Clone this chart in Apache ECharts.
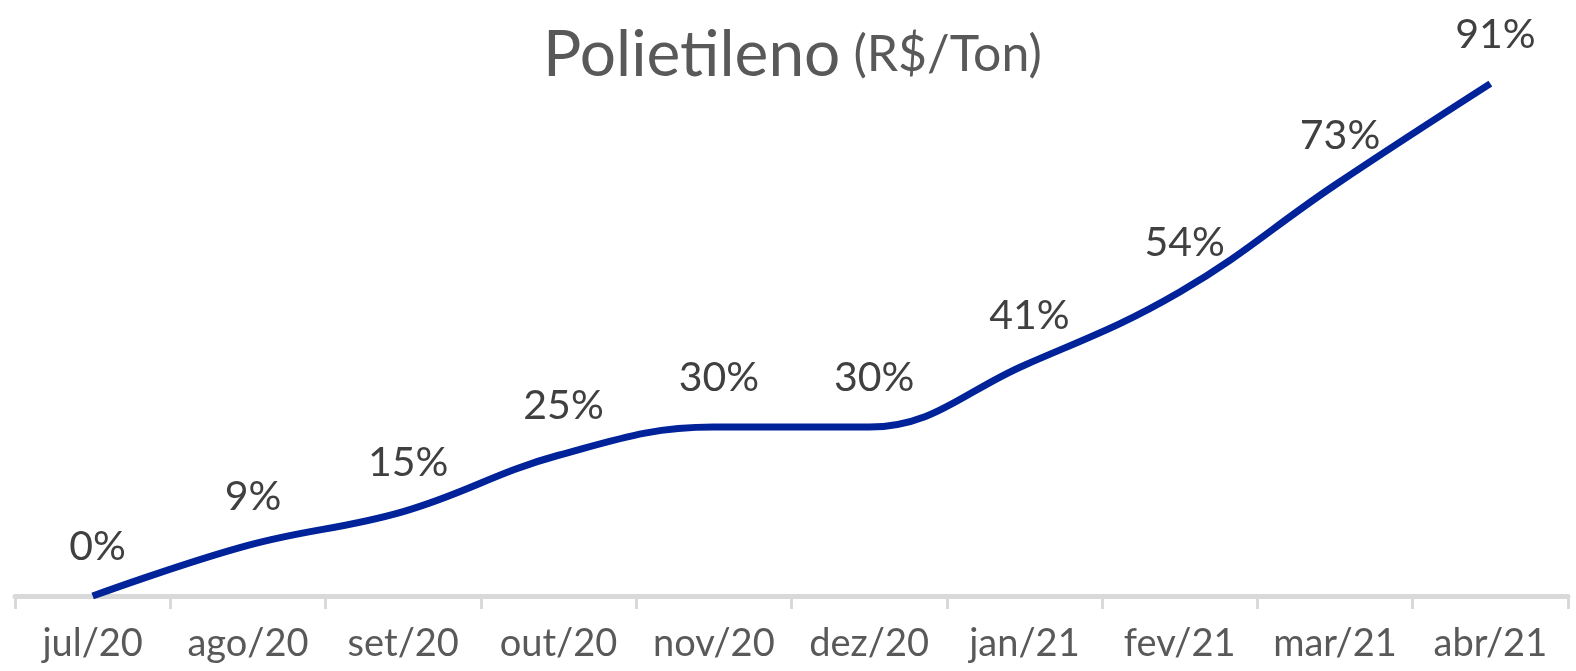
<!DOCTYPE html>
<html>
<head>
<meta charset="utf-8">
<script src="https://cdn.jsdelivr.net/npm/echarts@6/dist/echarts.min.js"></script>
<style>
  html, body { margin: 0; padding: 0; background: #fff; }
  #chart { width: 1576px; height: 671px; }
</style>
</head>
<body>
<div id="chart"></div>
<script>
// meses e variação acumulada do polietileno (%)
var months = ['jul/20', 'ago/20', 'set/20', 'out/20', 'nov/20', 'dez/20', 'jan/21', 'fev/21', 'mar/21', 'abr/21']
var variation = [0, 9, 15, 25, 30, 30, 41, 54, 73, 91]

var chart = echarts.init(document.getElementById('chart'))

var option = {
  backgroundColor: '#fff',
  animation: false,
  title: {
    text: '{a|Polietileno} {b|(R$/Ton)}',
    left: 538,
    top: 18,
    textStyle: {
      fontWeight: 'normal',
      rich: {
        a: { fontFamily: 'Lato', fontSize: 64, fontWeight: 'normal', color: '#595959' },
        b: { fontFamily: 'Lato', fontSize: 50, fontWeight: 'normal', color: '#595959', padding: [0, 0, 0, 8] }
      }
    }
  },
  grid: {
    left: 15,
    right: 8,
    top: 33,
    bottom: 75
  },
  xAxis: {
    type: 'category',
    data: months,
    boundaryGap: true,
    axisLine: { lineStyle: { color: '#d9d9d9', width: 5 } },
    axisTick: { show: true, length: 13, lineStyle: { color: '#d9d9d9', width: 3 } },
    axisLabel: {
      interval: 0,
      margin: 29,
      fontFamily: 'Lato',
      fontSize: 38,
      color: '#595959'
    }
  },
  yAxis: {
    type: 'value',
    min: 0,
    max: 100,
    show: false,
    splitLine: { show: false }
  },
  series: [
    {
      type: 'line',
      data: variation,
      smooth: 0.4,
      symbol: 'circle',
      symbolSize: 1,
      itemStyle: { color: 'rgba(0,0,0,0)' },
      lineStyle: { color: '#00239a', width: 7 },
      label: {
        show: true,
        position: 'top',
        distance: 28,
        offset: [5, 0],
        fontFamily: 'Lato',
        fontSize: 41,
        color: '#404040',
        formatter: function(p) {
          return p.value + '%'
        }
      }
    }
  ]
}

chart.setOption(option)
</script>
</body>
</html>
